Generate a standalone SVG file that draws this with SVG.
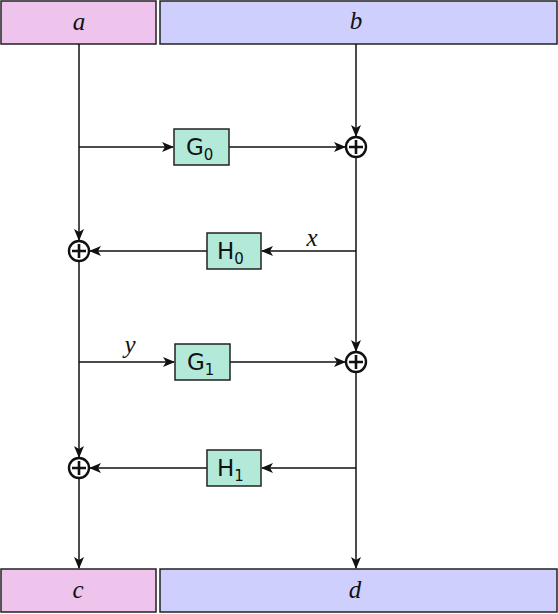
<svg xmlns="http://www.w3.org/2000/svg" width="558" height="614" viewBox="0 0 558 614">
<style>
.pink{fill:#eec3ec;stroke:#222;stroke-width:1.5}
.blue{fill:#cfcffe;stroke:#222;stroke-width:1.5}
.grn{fill:#b3e9d9;stroke:#222;stroke-width:1.5}
.math{font-family:"Liberation Serif",serif;font-style:italic;font-size:25px;fill:#111;text-anchor:middle}
.op{font-family:"DejaVu Sans",sans-serif;font-size:23px;fill:#111}
.sub{font-size:15px}
.ln{stroke:#111;stroke-width:1.5;fill:none}
.sum{fill:#fff;stroke:#111;stroke-width:2.4}
.pl{stroke:#111;stroke-width:2.6;fill:none}
</style>
<defs>
<marker id="ar" viewBox="0 0 12 10" refX="11" refY="5" markerWidth="12" markerHeight="10" markerUnits="userSpaceOnUse" orient="auto">
<path d="M0,0 L12,5 L0,10 L3,5 Z" fill="#111"/>
</marker>
</defs>
<g id="a"><rect class="pink" x="1" y="1" width="155" height="43"/><text class="math" x="79" y="30">a</text></g>
<g id="b"><rect class="blue" x="160" y="1" width="397" height="43"/><text class="math" x="356" y="29">b</text></g>
<g id="c"><rect class="pink" x="1" y="569" width="155" height="43"/><text class="math" x="78" y="598">c</text></g>
<g id="d"><rect class="blue" x="160" y="569" width="397" height="43"/><text class="math" x="355" y="598">d</text></g>
<g id="connectors">
<path class="ln" d="M79,44 V240" marker-end="url(#ar)"/>
<path class="ln" d="M79,262 V457" marker-end="url(#ar)"/>
<path class="ln" d="M79,479 V568" marker-end="url(#ar)"/>
<path class="ln" d="M356,44 V136" marker-end="url(#ar)"/>
<path class="ln" d="M356,158 V351" marker-end="url(#ar)"/>
<path class="ln" d="M356,373 V568" marker-end="url(#ar)"/>
<path class="ln" d="M79,147 H173" marker-end="url(#ar)"/>
<path class="ln" d="M229,147 H345" marker-end="url(#ar)"/>
<path class="ln" d="M356,251 H262" marker-end="url(#ar)"/>
<path class="ln" d="M207,251 H90" marker-end="url(#ar)"/>
<path class="ln" d="M79,362 H174" marker-end="url(#ar)"/>
<path class="ln" d="M230,362 H345" marker-end="url(#ar)"/>
<path class="ln" d="M356,468 H262" marker-end="url(#ar)"/>
<path class="ln" d="M207,468 H90" marker-end="url(#ar)"/>
<text class="math" x="312" y="246">x</text>
<text class="math" x="130" y="353">y</text>
</g>
<g id="G0"><rect class="grn" x="174" y="129" width="55" height="36"/><text class="op" x="186" y="155">G<tspan class="sub" dy="5">0</tspan></text></g>
<g id="H0"><rect class="grn" x="207" y="233" width="54" height="36"/><text class="op" x="217" y="259">H<tspan class="sub" dy="5">0</tspan></text></g>
<g id="G1"><rect class="grn" x="175" y="344" width="55" height="36"/><text class="op" x="187" y="370">G<tspan class="sub" dy="5">1</tspan></text></g>
<g id="H1"><rect class="grn" x="207" y="450" width="54" height="36"/><text class="op" x="217" y="476">H<tspan class="sub" dy="5">1</tspan></text></g>
<g id="sum1"><circle class="sum" cx="356" cy="147" r="10"/><path class="pl" d="M349,147 H363 M356,140 V154"/></g>
<g id="sum2"><circle class="sum" cx="79" cy="251" r="10"/><path class="pl" d="M72,251 H86 M79,244 V258"/></g>
<g id="sum3"><circle class="sum" cx="356" cy="362" r="10"/><path class="pl" d="M349,362 H363 M356,355 V369"/></g>
<g id="sum4"><circle class="sum" cx="79" cy="468" r="10"/><path class="pl" d="M72,468 H86 M79,461 V475"/></g>
</svg>
